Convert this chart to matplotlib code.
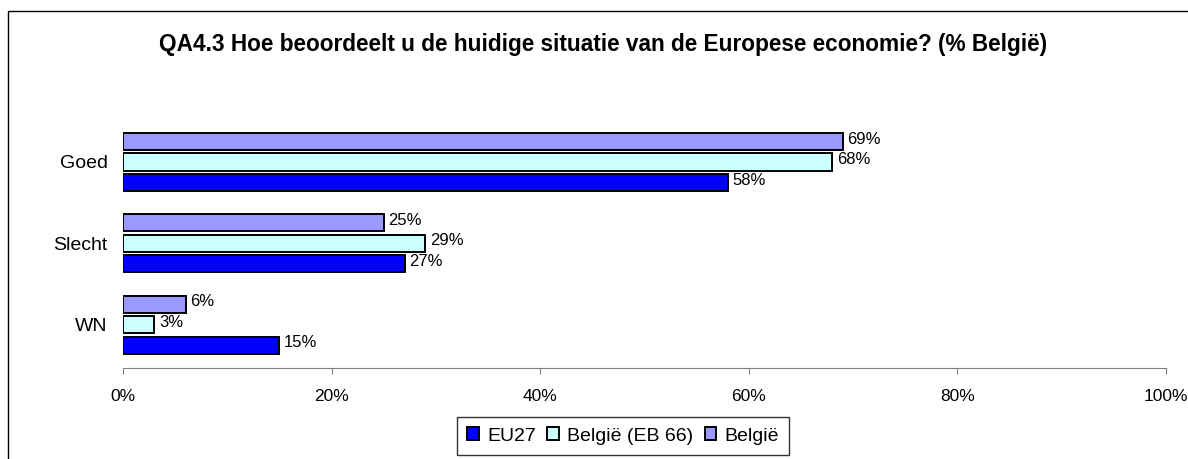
import numpy as np
import matplotlib.pyplot as plt
from matplotlib.patches import Rectangle

plt.rcParams['font.family'] = ['Liberation Sans', 'DejaVu Sans']

categories = ['Goed', 'Slecht', 'WN']
series_names = ['EU27', 'België (EB 66)', 'België']
eu27 = [58, 27, 15]
belgie_eb66 = [68, 29, 3]
belgie = [69, 25, 6]
colors = ['#0000FF', '#CCFFFF', '#9999FF']
title = 'QA4.3 Hoe beoordeelt u de huidige situatie van de Europese economie? (% België)'

fig = plt.figure(figsize=(11.88, 4.59), dpi=100)
# outer chart frame
fig.add_artist(Rectangle((8 / 1188, -0.1), 1.2, 1 - 11 / 459 + 0.1,
                         transform=fig.transFigure, fill=False,
                         edgecolor='black', linewidth=1.0))

ax = fig.add_axes([123 / 1188, 1 - 368 / 459, (1166 - 123) / 1188, (368 - 118) / 459])

ypos = np.array([2, 1, 0])
step = 0.252
h = 0.21
data = [eu27, belgie_eb66, belgie]
offsets = [-step, 0, step]
for vals, col, off, name in zip(data, colors, offsets, series_names):
    bars = ax.barh(ypos + off, vals, height=h, color=col, edgecolor='black',
                   linewidth=1.4, label=name)
    for b, v in zip(bars, vals):
        ax.text(b.get_width() + 0.45, b.get_y() + b.get_height() / 2 + 0.03,
                f'{v}%', va='center', ha='left', fontsize=12)

ax.set_xlim(0, 100)
ax.set_ylim(-0.53, 2.54)
ax.set_yticks(ypos)
ax.set_yticklabels(categories, fontsize=14)
ax.set_xticks(np.arange(0, 101, 20))
ax.set_xticklabels([f'{t}%' for t in range(0, 101, 20)], fontsize=12.5)
for s in ['top', 'right', 'left']:
    ax.spines[s].set_visible(False)
ax.spines['bottom'].set_color('#808080')
ax.tick_params(axis='y', length=0, pad=11)
ax.tick_params(axis='x', length=4, color='#808080', pad=11)

fig.text(603 / 1188, 1 - 45 / 459, title, ha='center', va='center',
         fontsize=16.3, fontweight='bold')

handles, labels = ax.get_legend_handles_labels()
leg = fig.legend(handles, labels, loc='center', bbox_to_anchor=(623 / 1188, 1 - 436 / 459),
                 ncol=3, fontsize=14, frameon=True, fancybox=False, edgecolor='black',
                 handlelength=0.6, handleheight=0.6, handletextpad=0.4,
                 columnspacing=0.6, borderpad=0.55)
leg.get_frame().set_linewidth(1.0)

fig.savefig('out.png', dpi=100)
